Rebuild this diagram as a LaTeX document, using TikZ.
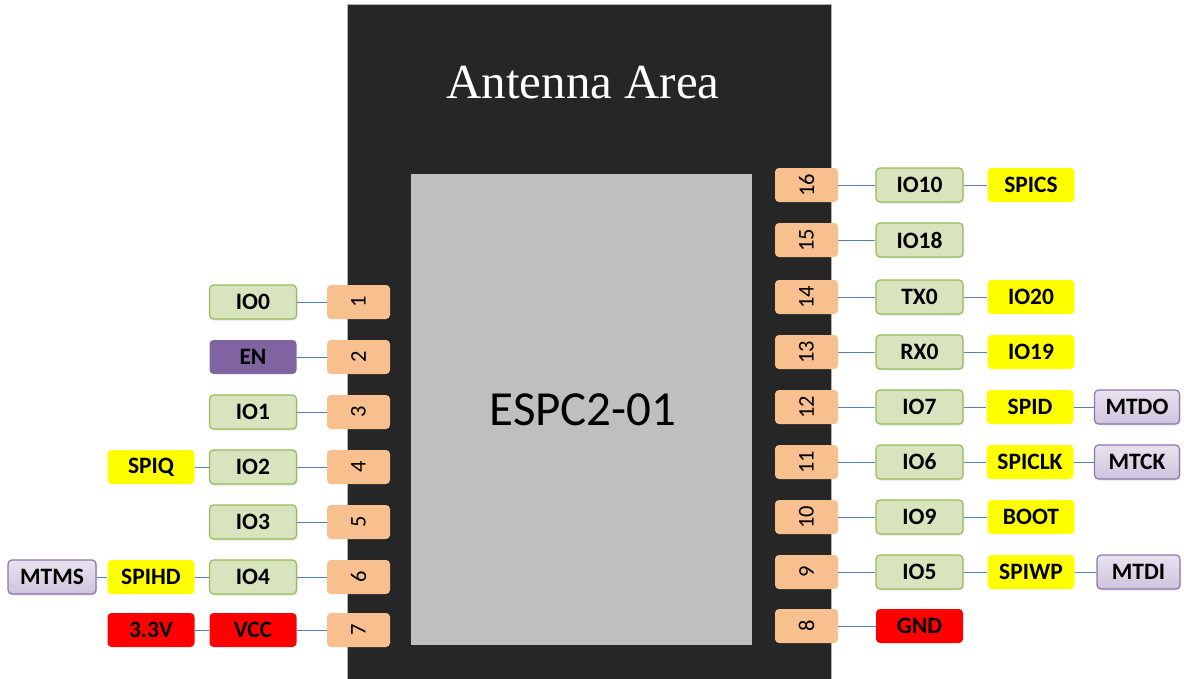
\documentclass[tikz,border=0pt]{standalone}
\usepackage{fontspec}
\setmainfont{Carlito}
\newfontfamily\serifant{Liberation Serif}
\usetikzlibrary{shadows}
\definecolor{chipc}{HTML}{262626}
\definecolor{corec}{HTML}{BFBFBF}
\definecolor{pinc}{HTML}{F8BF8F}
\definecolor{grfill}{HTML}{D7E4BD}
\definecolor{grdraw}{HTML}{9BBB59}
\definecolor{ylw}{HTML}{FFFF00}
\definecolor{rd}{HTML}{FF0000}
\definecolor{enc}{HTML}{8064A2}
\definecolor{lptop}{HTML}{E8E3EF}
\definecolor{lpbot}{HTML}{CFC4DD}
\definecolor{lpdraw}{HTML}{8C76AE}
\definecolor{wire}{HTML}{4F81BD}
\begin{document}
\begin{tikzpicture}[x=1pt,y=-1pt,
  box/.style={rounded corners=4pt, minimum width=87pt, minimum height=34pt, inner sep=0pt,
    font=\fontsize{23.5}{26}\selectfont\bfseries, text=black},
  gbox/.style={box, fill=grfill, draw=grdraw, line width=1.2pt,
    drop shadow={shadow xshift=1pt, shadow yshift=-1.5pt, opacity=0.2}},
  ybox/.style={box, fill=ylw},
  rbox/.style={box, fill=rd},
  ebox/.style={box, fill=enc},
  pbox/.style={box, top color=lptop, bottom color=lpbot, draw=lpdraw, line width=1.2pt, minimum width=85pt,
    drop shadow={shadow xshift=1pt, shadow yshift=-1.5pt, opacity=0.2}},
  pinbox/.style={rounded corners=4pt, fill=pinc, minimum width=63pt, minimum height=34pt, inner sep=0pt,
    font=\fontsize{22.5}{25}\selectfont, text=black},
  wr/.style={draw=wire, line width=1pt}
]
\useasboundingbox (0,0) rectangle (1184,678);
\fill[white] (0,0) rectangle (1184,678);
% chip
\draw[fill=chipc, draw=gray!60, line width=0.6pt] (347,4) rectangle (831,690);
\fill[corec] (411,174) rectangle (752,645);
\node[text=white, font=\serifant\fontsize{49}{53}\selectfont] (ant) at (583,83) {Antenna Area};
\node[text=black, font=\fontsize{49}{53}\selectfont] (name) at (583,410) {ESPC2-01};

% left pins
\foreach \n/\y in {1/302,2/357,3/412,4/467,5/522,6/577,7/630}
  \node[pinbox] (p\n) at (358.5,\y) {\rotatebox{90}{\n}};
% right pins
\foreach \n/\y in {16/185,15/240,14/297,13/352,12/407,11/462,10/517,9/572,8/626}
  \node[pinbox] (p\n) at (806.5,\y) {\rotatebox{90}{\n}};

% left side labels
\node[gbox] (a1) at (253,302) {IO0};
\node[ebox] (a2) at (253,357) {EN};
\node[gbox] (a3) at (253,412) {IO1};
\node[gbox] (a4) at (253,467) {IO2};
\node[ybox] (b4) at (151,467) {SPIQ};
\node[gbox] (a5) at (253,522) {IO3};
\node[gbox] (a6) at (253,577) {IO4};
\node[ybox] (b6) at (151,577) {SPIHD};
\node[pbox, minimum width=88pt] (c6) at (52,577) {MTMS};
\node[rbox] (a7) at (253,630) {VCC};
\node[rbox] (b7) at (151,630) {3.3V};

% right side labels
\node[gbox] (a16) at (919.5,185) {IO10};
\node[ybox] (b16) at (1031,185) {SPICS};
\node[gbox] (a15) at (919.5,240) {IO18};
\node[gbox] (a14) at (919.5,297) {TX0};
\node[ybox] (b14) at (1031,297) {IO20};
\node[gbox] (a13) at (919.5,352) {RX0};
\node[ybox] (b13) at (1031,352) {IO19};
\node[gbox] (a12) at (919.5,407) {IO7};
\node[ybox] (b12) at (1030,407) {SPID};
\node[pbox] (c12) at (1137,407) {MTDO};
\node[gbox] (a11) at (919.5,462) {IO6};
\node[ybox] (b11) at (1030,462) {SPICLK};
\node[pbox] (c11) at (1137,462) {MTCK};
\node[gbox] (a10) at (919.5,517) {IO9};
\node[ybox] (b10) at (1031,517) {BOOT};
\node[gbox] (a9) at (919.5,572) {IO5};
\node[ybox] (b9) at (1031,572) {SPIWP};
\node[pbox, minimum width=83pt] (c9) at (1138.5,572) {MTDI};
\node[rbox] (a8) at (919.5,626) {GND};

% wires left
\foreach \n in {1,2,3,4,5,6,7}
  \draw[wr] (a\n.east) -- (p\n.west);
\draw[wr] (b4.east) -- (a4.west);
\draw[wr] (b6.east) -- (a6.west);
\draw[wr] (c6.east) -- (b6.west);
\draw[wr] (b7.east) -- (a7.west);
% wires right
\foreach \n in {16,15,14,13,12,11,10,9,8}
  \draw[wr] (p\n.east) -- (a\n.west);
\foreach \n in {16,14,13,12,11,10,9}
  \draw[wr] (a\n.east) -- (b\n.west);
\foreach \n in {12,11,9}
  \draw[wr] (b\n.east) -- (c\n.west);
\end{tikzpicture}
\end{document}
